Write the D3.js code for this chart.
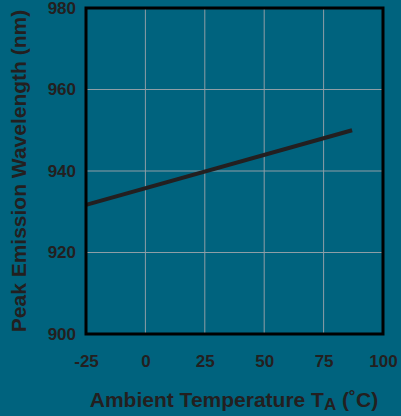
<!DOCTYPE html>
<html lang="en">
<head>
  <meta charset="UTF-8">
  <title>Peak Emission Wavelength vs Ambient Temperature</title>
  <script src="https://d3js.org/d3.v7.min.js"></script>
  <style>
    html, body { margin: 0; padding: 0; background: #00637e; }
    svg { display: block; }
    text { font-family: "Liberation Sans", Arial, sans-serif; font-weight: bold; fill: #231f20; }
  </style>
</head>
<body>
  <div id="chart"></div>
  <script>
    // data
    const temps = [-25, 87];
    const wavelengths = [931.7, 950];
    const xTicks = [-25, 0, 25, 50, 75, 100];
    const yTicks = [900, 920, 940, 960, 980];

    const width = 401, height = 416;
    const plotLeft = 86, plotRight = 383, plotTop = 8, plotBottom = 334;

    const svg = d3.select("#chart").append("svg")
      .attr("width", width)
      .attr("height", height);

    svg.append("rect")
      .attr("width", width).attr("height", height)
      .attr("fill", "#00637e");

    const x = d3.scaleLinear().domain([-25, 100]).range([plotLeft, plotRight]);
    const y = d3.scaleLinear().domain([900, 980]).range([plotBottom, plotTop]);

    // grid
    svg.append("g")
      .selectAll("line")
      .data(xTicks.slice(1, -1))
      .join("line")
      .attr("x1", d => x(d)).attr("x2", d => x(d))
      .attr("y1", plotTop).attr("y2", plotBottom)
      .attr("stroke", "#8e9ea6").attr("stroke-width", 1);

    svg.append("g")
      .selectAll("line")
      .data(yTicks.slice(1, -1))
      .join("line")
      .attr("x1", plotLeft).attr("x2", plotRight)
      .attr("y1", d => y(d)).attr("y2", d => y(d))
      .attr("stroke", "#8e9ea6").attr("stroke-width", 1);

    // axes (labels only, frame drawn below)
    const xAxis = svg.append("g")
      .attr("transform", `translate(0, ${plotBottom})`)
      .call(d3.axisBottom(x).tickValues(xTicks).tickFormat(d => String(d))
        .tickSize(0).tickPadding(21));
    xAxis.select(".domain").remove();
    xAxis.selectAll("text").attr("font-size", 17).attr("fill", "#231f20")
      .attr("font-family", "'Liberation Sans', Arial, sans-serif");

    const yAxis = svg.append("g")
      .attr("transform", `translate(${plotLeft}, 0)`)
      .call(d3.axisLeft(y).tickValues(yTicks).tickFormat(d => String(d))
        .tickSize(0).tickPadding(10));
    yAxis.select(".domain").remove();
    yAxis.selectAll("text").attr("font-size", 17).attr("fill", "#231f20")
      .attr("font-family", "'Liberation Sans', Arial, sans-serif");

    // the curve
    const line = d3.line()
      .x(d => x(d[0]))
      .y(d => y(d[1]));
    svg.append("path")
      .datum(d3.zip(temps, wavelengths))
      .attr("fill", "none")
      .attr("stroke", "#231f20")
      .attr("stroke-width", 4)
      .attr("d", line);

    // frame
    svg.append("rect")
      .attr("x", plotLeft).attr("y", plotTop)
      .attr("width", plotRight - plotLeft).attr("height", plotBottom - plotTop)
      .attr("fill", "none")
      .attr("stroke", "#000")
      .attr("stroke-width", 3);

    // axis titles
    const xt = svg.append("text")
      .attr("x", 234).attr("y", 407)
      .attr("text-anchor", "middle")
      .attr("font-size", 21);
    xt.append("tspan").text("Ambient Temperature T");
    xt.append("tspan").attr("dy", 3).attr("font-size", 17).text("A");
    xt.append("tspan").attr("dy", -3).text(" (˚C)");

    svg.append("text")
      .attr("transform", `translate(26, ${(plotTop + plotBottom) / 2}) rotate(-90)`)
      .attr("text-anchor", "middle")
      .attr("font-size", 21)
      .text("Peak Emission Wavelength (nm)");
  </script>
</body>
</html>
